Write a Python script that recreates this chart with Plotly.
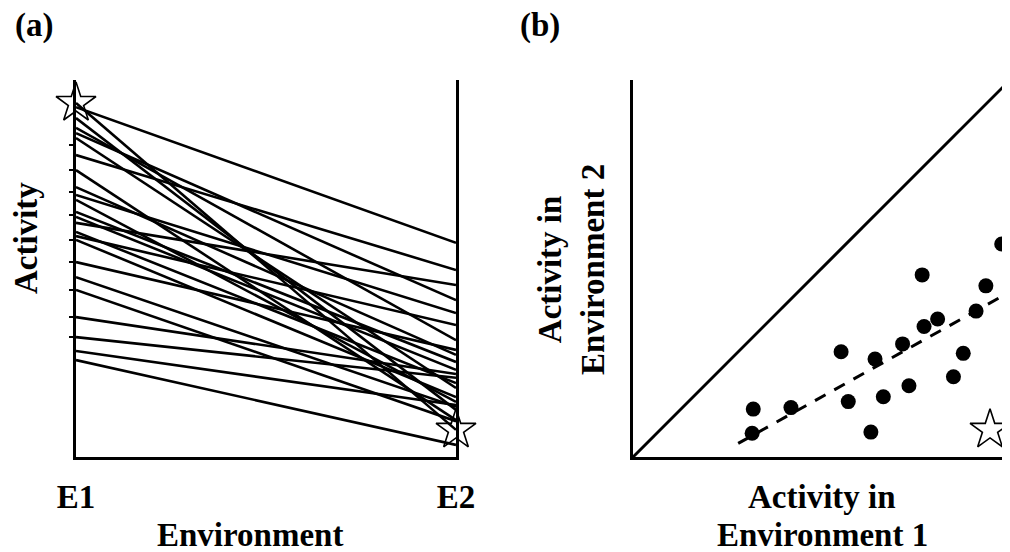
import plotly.graph_objects as go

# ---------------- data ----------------
env_labels = ["E1", "E2"]
# panel (a): activity of each genotype in E1 and E2
act_e1 = [9.28, 8.99, 8.73, 8.59, 8.46, 8.01, 7.61, 7.16, 6.95, 6.82, 6.50, 6.37,
          6.21, 5.97, 5.86, 5.76, 5.17, 4.77, 4.43, 3.71, 3.18, 2.81, 2.57]
act_e2 = [5.68, 1.25, 3.10, 4.16, 1.83, 4.96, 0.98, 2.71, 3.82, 1.46, 2.52, 2.31,
          4.56, 1.96, 3.50, 1.59, 2.84, 1.33, 0.95, 2.20, 2.10, 1.38, 0.32]
star_act = [9.39, 0.72]
a_ticks = [8.28, 7.61, 7.03, 6.42, 5.76, 5.17, 4.43, 3.71, 3.18]

# panel (b): activity in environment 1 vs environment 2
b_x = [9.78, 7.67, 9.36, 9.10, 8.08, 7.72, 7.15, 5.52, 6.42, 8.76, 8.50, 7.32,
       6.64, 5.71, 3.19, 4.19, 3.16, 6.31]
b_y = [5.65, 4.83, 4.54, 3.87, 3.66, 3.46, 3.00, 2.79, 2.60, 2.75, 2.13, 1.89,
       1.60, 1.47, 1.27, 1.31, 0.63, 0.66]
b_star_x = [9.47]
b_star_y = [0.72]
fit_x = [2.79, 10.0]
fit_y = [0.36, 4.38]
diag_x = [0, 10]
diag_y = [0, 10]

# page body has an 8px margin; figure coordinates are shifted by it
OFF = 8
W, H = 1010, 560
FONT = "Liberation Serif"


def px_x(p):
    return (p - OFF) / W


def px_y(p):
    return 1 - (p - OFF) / H


fig = go.Figure()

# panel (a) lines
for e1, e2 in zip(act_e1 + [star_act[0]], act_e2 + [star_act[1]]):
    fig.add_trace(go.Scatter(x=[0, 1], y=[e1, e2], mode="lines",
                             line=dict(color="black", width=2.6),
                             xaxis="x", yaxis="y", showlegend=False, hoverinfo="skip"))
fig.add_trace(go.Scatter(x=[0, 1], y=star_act, mode="markers",
                         marker=dict(symbol="star-open", size=30, color="black",
                                     line=dict(width=1.6, color="black")),
                         cliponaxis=False, xaxis="x", yaxis="y", showlegend=False))

# panel (b)
fig.add_trace(go.Scatter(x=diag_x, y=diag_y, mode="lines",
                         line=dict(color="black", width=3),
                         xaxis="x2", yaxis="y2", showlegend=False))
fig.add_trace(go.Scatter(x=fit_x, y=fit_y, mode="lines",
                         line=dict(color="black", width=3, dash="12px,10px"),
                         xaxis="x2", yaxis="y2", showlegend=False))
fig.add_trace(go.Scatter(x=b_x, y=b_y, mode="markers",
                         marker=dict(symbol="circle", size=15, color="black"),
                         xaxis="x2", yaxis="y2", showlegend=False))
fig.add_trace(go.Scatter(x=b_star_x, y=b_star_y, mode="markers",
                         marker=dict(symbol="star-open", size=30, color="black",
                                     line=dict(width=1.6, color="black")),
                         cliponaxis=False, xaxis="x2", yaxis="y2", showlegend=False))

ydom = [px_y(457), px_y(80)]
tfont = dict(family=FONT, size=33, color="black", weight="bold")

fig.update_layout(
    width=W, height=H,
    margin=dict(l=0, r=0, t=0, b=0, autoexpand=False),
    paper_bgcolor="white", plot_bgcolor="white",
    showlegend=False,
    xaxis=dict(domain=[px_x(76), px_x(456)], range=[0, 1], automargin=False,
               tickvals=[0, 1], ticktext=env_labels, ticks="",
               tickfont=tfont, ticklabelstandoff=8,
               showline=True, linecolor="black", linewidth=3,
               showgrid=False, zeroline=False),
    yaxis=dict(domain=ydom, range=[0, 10], anchor="x", automargin=False,
               tickvals=a_ticks, ticks="outside", ticklen=4, tickwidth=2,
               tickcolor="black", showticklabels=False,
               showline=True, mirror=True, linecolor="black", linewidth=3,
               showgrid=False, zeroline=False),
    xaxis2=dict(domain=[px_x(633), px_x(1010)], range=[0, 10], anchor="y2",
                automargin=False, showticklabels=False, ticks="",
                showline=True, linecolor="black", linewidth=3,
                showgrid=False, zeroline=False),
    yaxis2=dict(domain=ydom, range=[0, 10], anchor="x2", automargin=False,
                showticklabels=False, ticks="",
                showline=True, linecolor="black", linewidth=3,
                showgrid=False, zeroline=False),
)

ann = [
    dict(text="(a)", x=px_x(34), y=px_y(25)),
    dict(text="(b)", x=px_x(540), y=px_y(25)),
    dict(text="Activity", x=px_x(26), y=px_y(238), textangle=-90),
    dict(text="Environment", x=px_x(250), y=px_y(535)),
    dict(text="Activity in<br>Environment 2", x=px_x(571), y=px_y(270), textangle=-90),
    dict(text="Activity in", x=px_x(822), y=px_y(497)),
    dict(text="Environment 1", x=px_x(822), y=px_y(535)),
]
for a in ann:
    fig.add_annotation(xref="paper", yref="paper", showarrow=False,
                       xanchor="center", yanchor="middle",
                       font=tfont, **a)

fig.write_html("out.html")
